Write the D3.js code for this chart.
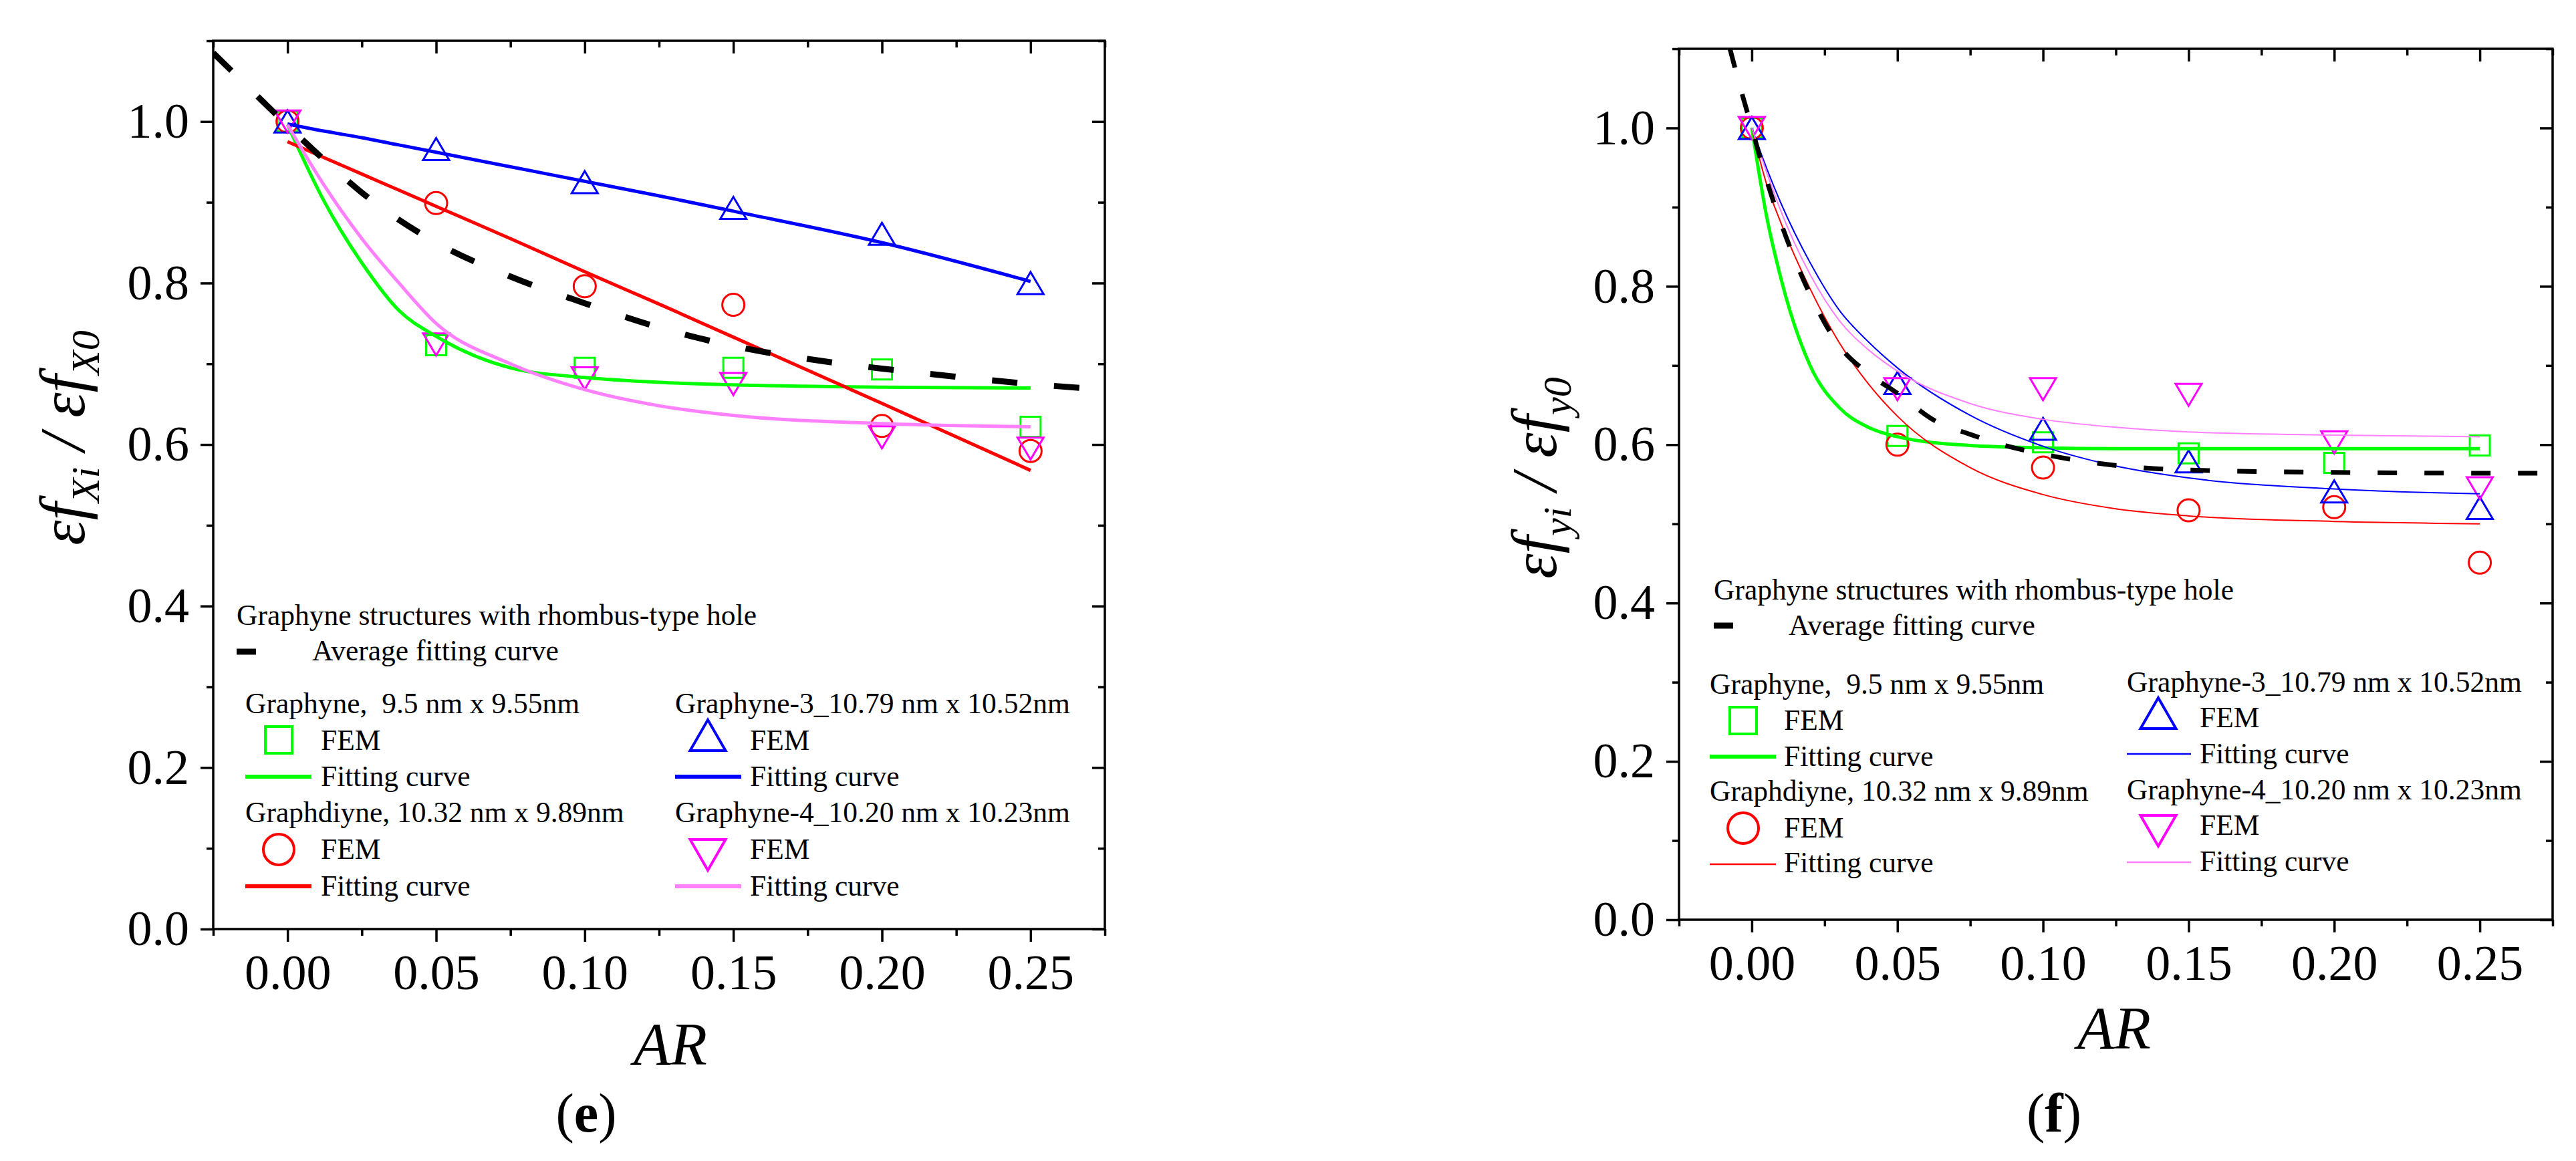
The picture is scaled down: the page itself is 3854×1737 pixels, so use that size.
<!DOCTYPE html>
<html>
<head>
<meta charset="utf-8">
<script src="https://cdn.jsdelivr.net/npm/d3@7"></script>
<style>
  body { margin: 0; background: #fff; }
  svg text { font-family: "Liberation Serif", "Tinos", "DejaVu Serif", "Noto Serif", serif; white-space: pre; }
</style>
</head>
<body>
<script>
// aspect ratio values shared by all FEM points
var AR = [0, 0.05, 0.10, 0.15, 0.20, 0.25];

// axis ticks
var xTicks = [0, 0.05, 0.10, 0.15, 0.20, 0.25];
var xMinor = [-0.025, 0.025, 0.075, 0.125, 0.175, 0.225, 0.275];
var yTicks = [0, 0.2, 0.4, 0.6, 0.8, 1.0];
var yMinor = [0.1, 0.3, 0.5, 0.7, 0.9, 1.1];

var seriesNames = ["Graphyne,  9.5 nm x 9.55nm", "Graphdiyne, 10.32 nm x 9.89nm",
                   "Graphyne-3_10.79 nm x 10.52nm", "Graphyne-4_10.20 nm x 10.23nm"];

// (e) FEM points
var eGraphyne   = [1.0, 0.723, 0.695, 0.695, 0.693, 0.622];
var eGraphdiyne = [1.0, 0.899, 0.796, 0.773, 0.623, 0.592];
var eGraphyne3  = [1.0, 0.966, 0.925, 0.893, 0.861, 0.800];
var eGraphyne4  = [1.0, 0.724, 0.682, 0.675, 0.609, 0.595];
// (e) fitting curves
var eFitX          = [0, 0.0125, 0.025, 0.0375, 0.05, 0.075, 0.10, 0.125, 0.15, 0.20, 0.25];
var eFitGraphyne   = [0.996, 0.90, 0.825, 0.766, 0.734, 0.695, 0.683, 0.677, 0.674, 0.671, 0.670];
var eFitGraphdiyne = [0.975, 0.955, 0.935, 0.915, 0.895, 0.855, 0.814, 0.774, 0.733, 0.651, 0.568];
var eFitGraphyne3  = [0.997, 0.988, 0.980, 0.971, 0.962, 0.944, 0.926, 0.908, 0.889, 0.850, 0.802];
var eFitGraphyne4  = [0.996, 0.92, 0.855, 0.80, 0.750, 0.700, 0.668, 0.648, 0.636, 0.626, 0.622];
var eAvgX = [-0.025, -0.0125, 0, 0.0125, 0.025, 0.05, 0.075, 0.10, 0.125, 0.15, 0.175, 0.20, 0.225, 0.25, 0.275];
var eAvg  = [1.085, 1.04, 0.995, 0.952, 0.912, 0.85, 0.808, 0.775, 0.745, 0.722, 0.706, 0.694, 0.684, 0.675, 0.668];

// (f) FEM points
var fGraphyne   = [1.0, 0.611, 0.603, 0.589, 0.577, 0.599];
var fGraphdiyne = [1.0, 0.600, 0.571, 0.517, 0.521, 0.451];
var fGraphyne3  = [1.0, 0.678, 0.620, 0.579, 0.541, 0.520];
var fGraphyne4  = [1.0, 0.670, 0.670, 0.663, 0.603, 0.545];
// (f) fitting curves
var fFitX          = [0, 0.005, 0.01, 0.02, 0.03, 0.04, 0.05, 0.075, 0.10, 0.125, 0.15, 0.20, 0.25];
var fFitGraphyne   = [1.0, 0.89, 0.81, 0.70, 0.647, 0.622, 0.610, 0.599, 0.596, 0.595, 0.595, 0.595, 0.595];
var fFitGraphdiyne = [1.0, 0.93, 0.88, 0.797, 0.729, 0.677, 0.636, 0.571, 0.537, 0.519, 0.510, 0.503, 0.500];
var fFitGraphyne3  = [1.0, 0.95, 0.905, 0.83, 0.77, 0.73, 0.697, 0.637, 0.598, 0.573, 0.558, 0.544, 0.538];
var fFitGraphyne4  = [1.0, 0.945, 0.895, 0.815, 0.757, 0.72, 0.693, 0.652, 0.632, 0.622, 0.616, 0.612, 0.610];
var fAvgX = [-0.0075, -0.005, 0, 0.005, 0.01, 0.02, 0.03, 0.04, 0.05, 0.063, 0.075, 0.086, 0.10, 0.112, 0.127, 0.15, 0.20, 0.25, 0.275];
var fAvg  = [1.1, 1.065, 1.0, 0.935, 0.88, 0.79, 0.725, 0.69, 0.665, 0.63, 0.613, 0.60, 0.588, 0.58, 0.573, 0.568, 0.565, 0.564, 0.564];

var colors = { green: "#00ff00", red: "#ff0000", blue: "#0000ff", magenta: "#ff00ff", pink: "#ff80ff" };
var serif = "'Liberation Serif', 'Tinos', 'DejaVu Serif', 'Noto Serif', serif";

var svg = d3.select("body").append("svg")
    .attr("width", 3854)
    .attr("height", 1737);

function markerPath(type, cx, cy, w, h) {
  var p = d3.path();
  if (type === "square") {
    p.rect(cx - w / 2, cy - h / 2, w, h);
  } else if (type === "circle") {
    p.arc(cx, cy, w / 2, 0, 2 * Math.PI);
  } else if (type === "up") {
    p.moveTo(cx, cy - h / 2); p.lineTo(cx + w / 2, cy + h / 2); p.lineTo(cx - w / 2, cy + h / 2); p.closePath();
  } else {
    p.moveTo(cx - w / 2, cy - h / 2); p.lineTo(cx + w / 2, cy - h / 2); p.lineTo(cx, cy + h / 2); p.closePath();
  }
  return p.toString();
}

var markerSize = { square: [30, 30], circle: [33, 33], up: [39, 33], down: [39, 33] };
var legendSize = { square: [40, 40], circle: [46, 46], up: [53, 46], down: [53, 46] };

function drawPanel(p) {
  var x = d3.scaleLinear().domain([-0.025, 0.275]).range([p.left, p.right]);
  var y = d3.scaleLinear().domain([0, 1.1]).range([p.bottom, p.top]);
  var g = svg.append("g").attr("font-family", serif);

  g.append("clipPath").attr("id", "clip-" + p.id)
    .append("rect")
    .attr("x", p.left).attr("y", p.top)
    .attr("width", p.right - p.left).attr("height", p.bottom - p.top);

  function styleAxis(sel) {
    sel.attr("font-family", serif);
    sel.select(".domain").remove();
    sel.selectAll("line").attr("stroke", "#000").attr("stroke-width", 3.5);
    sel.selectAll("text").attr("font-size", 74).attr("font-family", serif).attr("fill", "#000");
  }

  // bottom / left with labels, top / right mirrored inwards
  g.append("g").attr("transform", "translate(0," + p.bottom + ")")
    .call(d3.axisBottom(x).tickValues(xTicks).tickSize(19).tickPadding(18).tickSizeOuter(0).tickFormat(d3.format(".2f")))
    .call(styleAxis);
  g.append("g").attr("transform", "translate(0," + p.bottom + ")")
    .call(d3.axisBottom(x).tickValues(xMinor).tickSize(10).tickSizeOuter(0).tickFormat(""))
    .call(styleAxis);
  g.append("g").attr("transform", "translate(0," + p.top + ")")
    .call(d3.axisTop(x).tickValues(xTicks).tickSize(-19).tickSizeOuter(0).tickFormat(""))
    .call(styleAxis);
  g.append("g").attr("transform", "translate(0," + p.top + ")")
    .call(d3.axisTop(x).tickValues(xMinor).tickSize(-10).tickSizeOuter(0).tickFormat(""))
    .call(styleAxis);
  g.append("g").attr("transform", "translate(" + p.left + ",0)")
    .call(d3.axisLeft(y).tickValues(yTicks).tickSize(19).tickPadding(17).tickSizeOuter(0).tickFormat(d3.format(".1f")))
    .call(styleAxis);
  g.append("g").attr("transform", "translate(" + p.left + ",0)")
    .call(d3.axisLeft(y).tickValues(yMinor).tickSize(10).tickSizeOuter(0).tickFormat(""))
    .call(styleAxis);
  g.append("g").attr("transform", "translate(" + p.right + ",0)")
    .call(d3.axisRight(y).tickValues(yTicks).tickSize(-19).tickSizeOuter(0).tickFormat(""))
    .call(styleAxis);
  g.append("g").attr("transform", "translate(" + p.right + ",0)")
    .call(d3.axisRight(y).tickValues(yMinor).tickSize(-10).tickSizeOuter(0).tickFormat(""))
    .call(styleAxis);

  g.append("rect")
    .attr("x", p.left).attr("y", p.top)
    .attr("width", p.right - p.left).attr("height", p.bottom - p.top)
    .attr("fill", "none").attr("stroke", "#000").attr("stroke-width", 3.5);

  var plot = g.append("g").attr("clip-path", "url(#clip-" + p.id + ")");

  // FEM markers
  p.series.forEach(function (s) {
    plot.selectAll(null).data(s.values).enter().append("path")
      .attr("d", function (d, i) {
        var sz = markerSize[s.marker];
        return markerPath(s.marker, x(AR[i]), y(d), sz[0], sz[1]);
      })
      .attr("fill", "none").attr("stroke", s.color).attr("stroke-width", 3);
  });

  // fitting curves
  p.series.forEach(function (s) {
    var line = d3.line()
      .x(function (d, i) { return x(p.fitX[i]); })
      .y(function (d) { return y(d); })
      .curve(d3.curveMonotoneX);
    plot.append("path").datum(s.fit)
      .attr("d", line)
      .attr("fill", "none").attr("stroke", s.lineColor).attr("stroke-width", s.lineWidth);
  });

  // average fitting curve
  var avgLine = d3.line()
    .x(function (d, i) { return x(p.avgX[i]); })
    .y(function (d) { return y(d); })
    .curve(d3.curveMonotoneX);
  plot.append("path").datum(p.avg)
    .attr("d", avgLine)
    .attr("fill", "none").attr("stroke", "#000")
    .attr("stroke-width", p.dashWidth).attr("stroke-dasharray", p.dash);

  // y title: built at the origin, measured, then rotated and centred
  var yl = g.append("text")
    .attr("font-size", 95).attr("font-style", "italic");
  yl.append("tspan").text("\u03b5f");
  yl.append("tspan").attr("font-size", 60).attr("dy", 22).text(p.sub1);
  yl.append("tspan").attr("dy", -22).text(" / \u03b5f");
  yl.append("tspan").attr("font-size", 60).attr("dy", 22).text(p.sub2);
  var bb = yl.node().getBBox();
  yl.attr("transform", "translate(" + p.yLabel[0] + "," + p.yLabel[1] + ") rotate(-90) translate(" +
    (-bb.x - bb.width / 2) + ",0)");

  g.append("text").attr("x", p.arLabel[0]).attr("y", p.arLabel[1])
    .attr("text-anchor", "middle").attr("font-size", 90).attr("font-style", "italic").text("AR");

  var pl = g.append("text").attr("x", p.panelLabel[0]).attr("y", p.panelLabel[1])
    .attr("text-anchor", "middle").attr("font-size", 82);
  pl.append("tspan").text("(");
  pl.append("tspan").attr("font-weight", "bold").text(p.letter);
  pl.append("tspan").text(")");

  // legend
  var L = p.legend;
  var lg = g.append("g").attr("font-size", 43.5);
  lg.append("text").attr("x", L.title[0]).attr("y", L.title[1]).text("Graphyne structures with rhombus-type hole");
  lg.append("line").attr("x1", L.avgLine[0]).attr("x2", L.avgLine[1]).attr("y1", L.avgLine[2]).attr("y2", L.avgLine[2])
    .attr("stroke", "#000").attr("stroke-width", 9);
  lg.append("text").attr("x", L.avgText[0]).attr("y", L.avgText[1]).text("Average fitting curve");
  L.groups.forEach(function (e, k) {
    var s = p.series[k];
    var sz = legendSize[s.marker];
    lg.append("text").attr("x", e.header[0]).attr("y", e.header[1]).text(seriesNames[k]);
    lg.append("path").attr("d", markerPath(s.marker, e.marker[0], e.marker[1], sz[0], sz[1]))
      .attr("fill", "none").attr("stroke", s.color).attr("stroke-width", 4);
    lg.append("text").attr("x", e.fem[0]).attr("y", e.fem[1]).text("FEM");
    lg.append("line").attr("x1", e.line[0]).attr("x2", e.line[1]).attr("y1", e.line[2]).attr("y2", e.line[2])
      .attr("stroke", s.lineColor).attr("stroke-width", s.legendWidth);
    lg.append("text").attr("x", e.fit[0]).attr("y", e.fit[1]).text("Fitting curve");
  });
}

drawPanel({
  id: "e", letter: "e", sub1: "Xi", sub2: "X0",
  left: 319, right: 1653, top: 61, bottom: 1390,
  yLabel: [126, 655], arLabel: [1003, 1593], panelLabel: [877, 1693],
  fitX: eFitX, avgX: eAvgX, avg: eAvg, dash: "38,55", dashWidth: 9,
  series: [
    { values: eGraphyne,   fit: eFitGraphyne,   marker: "square", color: colors.green,   lineColor: colors.green, lineWidth: 5, legendWidth: 6 },
    { values: eGraphdiyne, fit: eFitGraphdiyne, marker: "circle", color: colors.red,     lineColor: colors.red,   lineWidth: 5, legendWidth: 6 },
    { values: eGraphyne3,  fit: eFitGraphyne3,  marker: "up",     color: colors.blue,    lineColor: colors.blue,  lineWidth: 5, legendWidth: 6 },
    { values: eGraphyne4,  fit: eFitGraphyne4,  marker: "down",   color: colors.magenta, lineColor: colors.pink,  lineWidth: 5, legendWidth: 6 }
  ],
  legend: {
    title: [354, 935], avgLine: [354, 383, 975], avgText: [467, 988],
    groups: [
      { header: [367, 1067], marker: [417, 1107], fem: [480, 1122], line: [367, 466, 1162], fit: [480, 1176] },
      { header: [367, 1230], marker: [417, 1271], fem: [480, 1285], line: [367, 466, 1326], fit: [480, 1340] },
      { header: [1010, 1067], marker: [1059, 1100], fem: [1122, 1122], line: [1010, 1109, 1162], fit: [1122, 1176] },
      { header: [1010, 1230], marker: [1059, 1279], fem: [1122, 1285], line: [1010, 1109, 1326], fit: [1122, 1340] }
    ]
  }
});

drawPanel({
  id: "f", letter: "f", sub1: "yi", sub2: "y0",
  left: 2512, right: 3819, top: 73, bottom: 1376,
  yLabel: [2328, 715], arLabel: [3163, 1569], panelLabel: [3073, 1693],
  fitX: fFitX, avgX: fAvgX, avg: fAvg, dash: "29,41", dashWidth: 7,
  series: [
    { values: fGraphyne,   fit: fFitGraphyne,   marker: "square", color: colors.green,   lineColor: colors.green, lineWidth: 5, legendWidth: 6 },
    { values: fGraphdiyne, fit: fFitGraphdiyne, marker: "circle", color: colors.red,     lineColor: colors.red,   lineWidth: 2, legendWidth: 2.5 },
    { values: fGraphyne3,  fit: fFitGraphyne3,  marker: "up",     color: colors.blue,    lineColor: colors.blue,  lineWidth: 2, legendWidth: 2.5 },
    { values: fGraphyne4,  fit: fFitGraphyne4,  marker: "down",   color: colors.magenta, lineColor: colors.pink,  lineWidth: 2, legendWidth: 2.5 }
  ],
  legend: {
    title: [2564, 897], avgLine: [2564, 2593, 936], avgText: [2676, 950],
    groups: [
      { header: [2558, 1038], marker: [2608, 1078], fem: [2669, 1092], line: [2558, 2657, 1132], fit: [2669, 1146] },
      { header: [2558, 1198], marker: [2608, 1239], fem: [2669, 1253], line: [2558, 2657, 1293], fit: [2669, 1305] },
      { header: [3182, 1035], marker: [3229, 1067], fem: [3291, 1088], line: [3182, 3278, 1128], fit: [3291, 1142] },
      { header: [3182, 1196], marker: [3229, 1243], fem: [3291, 1249], line: [3182, 3278, 1290], fit: [3291, 1303] }
    ]
  }
});
</script>
</body>
</html>
